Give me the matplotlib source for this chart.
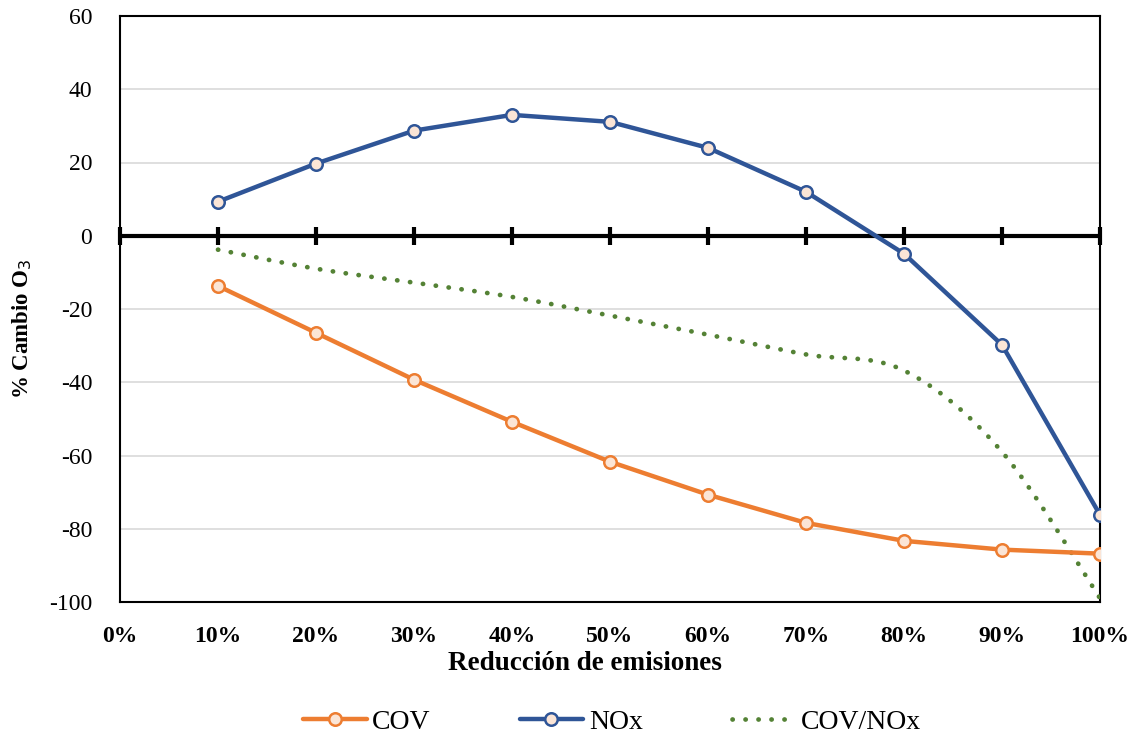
import numpy as np
import matplotlib
matplotlib.use("Agg")
import matplotlib.pyplot as plt
from matplotlib.ticker import FuncFormatter

plt.rcParams['font.family'] = ['Liberation Serif', 'DejaVu Serif']
plt.rcParams['axes.unicode_minus'] = False

reduccion = [10, 20, 30, 40, 50, 60, 70, 80, 90, 100]
cov = [-13.7, -26.5, -39.3, -50.8, -61.7, -70.7, -78.4, -83.3, -85.7, -86.8]
nox = [9.3, 19.7, 28.7, 33.0, 31.1, 24.0, 12.0, -4.9, -29.8, -76.2]
cov_nox = [-3.8, -9.0, -12.8, -16.7, -21.8, -27.0, -32.4, -36.8, -59.0, -99.0]
xticks = [0, 10, 20, 30, 40, 50, 60, 70, 80, 90, 100]
yticks = [-100, -80, -60, -40, -20, 0, 20, 40, 60]


def smooth(x, y, n=30):
    """Excel-style smoothed line (Bezier through the points)."""
    x = np.asarray(x, float)
    y = np.asarray(y, float)
    px = np.concatenate([[x[0]], x, [x[-1]]])
    py = np.concatenate([[y[0]], y, [y[-1]]])
    xs, ys = [], []
    t = np.linspace(0, 1, n)
    for i in range(1, len(px) - 2):
        p0 = np.array([px[i], py[i]])
        p3 = np.array([px[i + 1], py[i + 1]])
        p1 = p0 + (np.array([px[i + 1], py[i + 1]]) - np.array([px[i - 1], py[i - 1]])) / 6
        p2 = p3 - (np.array([px[i + 2], py[i + 2]]) - np.array([px[i], py[i]])) / 6
        b = ((1 - t) ** 3)[:, None] * p0 + (3 * (1 - t) ** 2 * t)[:, None] * p1 \
            + (3 * (1 - t) * t ** 2)[:, None] * p2 + (t ** 3)[:, None] * p3
        xs.extend(b[:, 0])
        ys.extend(b[:, 1])
    return np.array(xs), np.array(ys)


fig = plt.figure(figsize=(11.37, 7.34), dpi=100)
ax = fig.add_axes([120 / 1137, 1 - 602 / 734, 980 / 1137, 586 / 734])

orange = '#ED7D31'
blue = '#2F5597'
green = '#548235'
face = '#FBE5D6'

ax.set_xlim(0, 100)
ax.set_ylim(-100, 60)
ax.set_yticks(yticks)
ax.set_xticks(xticks)
ax.grid(axis='y', color='#D9D9D9', lw=1.2)
ax.set_axisbelow(True)

ax.plot(reduccion, cov, color=orange, lw=3.2, marker='o', ms=9,
        mfc=face, mec=orange, mew=1.8, label='COV', zorder=4,
        solid_capstyle='round')
ax.plot(reduccion, nox, color=blue, lw=3.2, marker='o', ms=9,
        mfc=face, mec=blue, mew=1.8, label='NOx', zorder=4,
        solid_capstyle='round')
sx, sy = smooth(reduccion, cov_nox)
ax.plot(sx, sy, color=green, lw=3.4, linestyle=(0, (0.05, 2.7)),
        dash_capstyle='round', label='COV/NOx', zorder=3)

for s in ax.spines.values():
    s.set_color('black')
    s.set_linewidth(1.5)

ax.tick_params(axis='y', length=0, pad=20, labelsize=17)
ax.tick_params(axis='x', length=0, pad=17, labelsize=17)
for lab in ax.get_xticklabels():
    lab.set_fontweight('bold')
ax.xaxis.set_major_formatter(FuncFormatter(lambda v, p: f"{v:.0f}%"))

# horizontal axis crossing at zero, with tick marks
ax.axhline(0, color='black', lw=3, zorder=2.5)
ymin, ymax = ax.get_ylim()
sec = ax.secondary_xaxis((0 - ymin) / (ymax - ymin))
sec.set_xticks(xticks)
sec.tick_params(axis='x', direction='inout', length=13, width=3, labelbottom=False,
                labeltop=False, color='black')
for s in sec.spines.values():
    s.set_visible(False)
sec.set_xticklabels([])

ax.set_xlabel('Reducción de emisiones', fontsize=19.5, fontweight='bold')
ax.xaxis.set_label_coords((585 - 120) / 980, -(651 - 602) / 586)
ax.set_ylabel('% Cambio O$_3$', fontsize=16.5, fontweight='bold')
ax.yaxis.set_label_coords(-(120 - 34) / 980, 1 - (329 - 16) / 586)

fig.legend(loc='center', bbox_to_anchor=(612 / 1137, 1 - 722 / 734), ncol=3, frameon=False,
           fontsize=20, handlelength=2.3, columnspacing=3.2, handletextpad=0.2)

fig.savefig('out.png', dpi=100)
